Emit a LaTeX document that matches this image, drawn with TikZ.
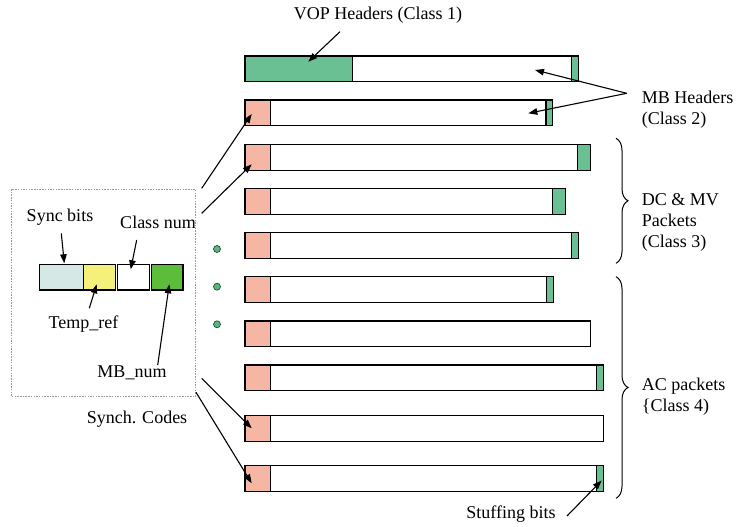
\documentclass[tikz,border=0pt]{standalone}
\usepackage{fontspec}
\setmainfont{Liberation Serif}
\usetikzlibrary{arrows.meta,decorations.pathreplacing}

\definecolor{hdrgreen}{RGB}{106,192,146}
\definecolor{syncpink}{RGB}{245,182,164}
\definecolor{syncblue}{RGB}{214,232,230}
\definecolor{refyellow}{RGB}{245,240,122}
\definecolor{mbgreen}{RGB}{92,189,59}
\definecolor{dotgreen}{RGB}{96,176,138}

\tikzset{
  lbl/.style={font=\fontsize{18}{21}\selectfont, inner sep=0pt},
  barline/.style={draw=black, line width=1.2pt},
  arr/.style={line width=1.1pt, -{Triangle[length=9pt,width=6.5pt]}},
  plain/.style={line width=1.1pt},
  pinkcell/.style={barline, fill=syncpink},
  greencell/.style={barline, fill=hdrgreen},
  whitecell/.style={barline, fill=white},
  fieldcell/.style={draw=black, line width=1.1pt},
  curly/.style={line width=1pt, decorate, decoration={brace, amplitude=12pt}},
  fielddot/.style={draw=black!70!green, line width=0.6pt, fill=dotgreen}
}

\begin{document}
\begin{tikzpicture}[x=1pt, y=-1pt]
\useasboundingbox (0,0) rectangle (737,527);

% ---- packet rows ----
% row 1: VOP header
\draw[whitecell] (245,56) rectangle (578.3,81.6);
\draw[greencell] (245,56) rectangle (352.3,81.6);
\draw[greencell] (571.7,56) rectangle (578.3,81.6);
% row 2
\draw[whitecell] (245,100) rectangle (552.7,125.6);
\draw[pinkcell] (245,100) rectangle (270.7,125.6);
\draw[greencell] (546,100) rectangle (552.7,125.6);
% row 3
\draw[whitecell] (245,144.7) rectangle (590.3,170.3);
\draw[pinkcell] (245,144.7) rectangle (270.7,170.3);
\draw[greencell] (577.3,144.7) rectangle (590.3,170.3);
% row 4
\draw[whitecell] (245,188.7) rectangle (565.3,214.3);
\draw[pinkcell] (245,188.7) rectangle (270.7,214.3);
\draw[greencell] (552.7,188.7) rectangle (565.3,214.3);
% row 5
\draw[whitecell] (245,232.7) rectangle (578.3,258.3);
\draw[pinkcell] (245,232.7) rectangle (270.7,258.3);
\draw[greencell] (571.7,232.7) rectangle (578.3,258.3);
% row 6
\draw[whitecell] (245,276.7) rectangle (553.3,302.3);
\draw[pinkcell] (245,276.7) rectangle (270.7,302.3);
\draw[greencell] (546.3,276.7) rectangle (553.3,302.3);
% row 7
\draw[whitecell] (245,321) rectangle (590.3,346.6);
\draw[pinkcell] (245,321) rectangle (270.7,346.6);
% row 8
\draw[whitecell] (245,365) rectangle (603.3,390.6);
\draw[pinkcell] (245,365) rectangle (270.7,390.6);
\draw[greencell] (596.3,365) rectangle (603.3,390.6);
% row 9
\draw[whitecell] (245,415.7) rectangle (603.3,441.3);
\draw[pinkcell] (245,415.7) rectangle (270.7,441.3);
% row 10
\draw[whitecell] (245,465.7) rectangle (603.3,491.3);
\draw[pinkcell] (245,465.7) rectangle (270.7,491.3);
\draw[greencell] (596.3,465.7) rectangle (603.3,491.3);

% ---- sync code detail ----
\draw[gray!80, line width=0.7pt, dash pattern=on 1.5pt off 1.2pt] (11.7,189) rectangle (195.3,396.7);
\draw[fieldcell, fill=syncblue] (39.3,264.3) rectangle (83.3,290);
\draw[fieldcell, fill=refyellow] (83.3,264.3) rectangle (115.3,290);
\draw[fieldcell, fill=white] (117.7,264.3) rectangle (149.7,290);
\draw[fieldcell, fill=mbgreen] (151.3,264.3) rectangle (183,290);

\node[lbl] (sync) at (60,217) {Sync bits};
\node[lbl] (cls) at (158,222) {Class num};
\node[lbl] (tref) at (83.5,324) {Temp\_ref};
\node[lbl] (mbn) at (132,373) {MB\_num};
\node[lbl] (codes) at (137,419) {Synch. Codes};

\coordinate (syncA) at (61.3,233.3);   \coordinate (syncB) at (64.3,263.3);
\coordinate (clsA) at (136.7,240);     \coordinate (clsB) at (130.7,269.3);
\coordinate (trefA) at (89.3,308.3);   \coordinate (trefB) at (96.7,284.3);
\coordinate (mbnA) at (157.7,365);     \coordinate (mbnB) at (169.3,284.3);
\draw[arr] (syncA) -- (syncB);
\draw[arr] (clsA) -- (clsB);
\draw[arr] (trefA) -- (trefB);
\draw[arr] (mbnA) -- (mbnB);

% dots between the detail box and the rows
\foreach \dy in {249,286.7,324.3} \draw[fielddot] (217,\dy) circle (3.5pt);

% ---- sync code pointers ----
\coordinate (sA) at (201.7,188.3);  \coordinate (sB) at (251.7,114);
\coordinate (sC) at (201.7,213.3);  \coordinate (sD) at (251.7,164.3);
\coordinate (sE) at (201.7,378.3);  \coordinate (sF) at (251.7,428.3);
\coordinate (sG) at (196,392.3);    \coordinate (sH) at (251.7,483.3);
\draw[arr] (sA) -- (sB);
\draw[arr] (sC) -- (sD);
\draw[arr] (sE) -- (sF);
\draw[arr] (sG) -- (sH);

% ---- header labels ----
\node[lbl] (vop) at (378,15) {VOP Headers (Class 1)};
\coordinate (vopA) at (340,31.7);  \coordinate (vopB) at (308.3,61.7);
\draw[arr] (vopA) -- (vopB);

\node[lbl, anchor=west, align=left] (mbh) at (641.7,110) {MB Headers\\(Class 2)};
\coordinate (mbV) at (626.7,93.3);
\coordinate (mbT1) at (535,70);
\coordinate (mbT2) at (528.3,113.3);
\draw[arr] (mbV) -- (mbT1);
\draw[arr] (mbV) -- (mbT2);

% ---- class braces ----
\coordinate (b3top) at (616,138.3);  \coordinate (b3bot) at (616,263.3);
\coordinate (b4top) at (616,276.7);  \coordinate (b4bot) at (616,498.3);
\draw[curly] (b3top) -- (b3bot);
\draw[curly] (b4top) -- (b4bot);
\node[lbl, anchor=west, align=left] (dcmv) at (641.7,222.5) {DC \& MV\\Packets\\(Class 3)};
\node[lbl, anchor=west, align=left] (acp) at (641.7,396.7) {AC packets\\\{Class 4)};

% ---- stuffing ----
\node[lbl] (stuff) at (511,514) {Stuffing bits};
\coordinate (stA) at (567,516);  \coordinate (stB) at (601.7,480.5);
\draw[arr] (stA) -- (stB);
\end{tikzpicture}
\end{document}
